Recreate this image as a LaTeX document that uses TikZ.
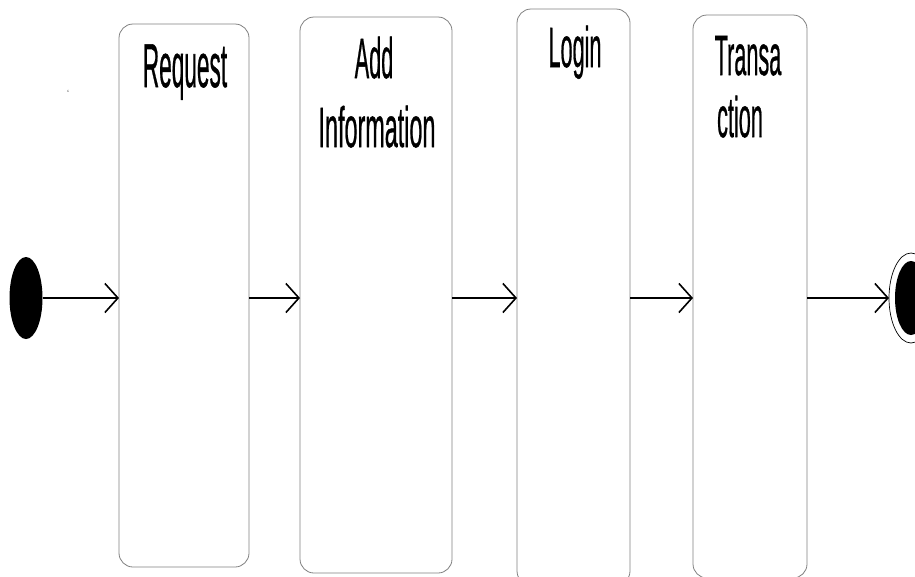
\documentclass[tikz,border=0pt]{standalone}
\usepackage{fontspec}
\setmainfont{Liberation Sans}
\newfontfamily\titlefont[FakeBold=0.9]{Liberation Sans}
\usetikzlibrary{arrows.meta,shapes.geometric}
\definecolor{edgegray}{RGB}{128,128,128}
\tikzset{
  stepbox/.style={draw=edgegray, line width=0.8pt, rounded corners=14pt,
    inner sep=0pt, outer sep=0pt},
  lbl/.style={anchor=base, inner sep=0pt, xscale=#1, transform shape},
  lbl/.default=0.38,
  flow/.style={line width=2pt, -{Straight Barb[length=13pt,width=29pt,line width=1.6pt]}},
  startdot/.style={ellipse, fill=black, draw=none, minimum width=33pt,
    minimum height=82pt, inner sep=0pt, outer sep=0pt},
}
\newcommand{\titlesize}{\titlefont\fontsize{57}{57}\selectfont}
\begin{document}
\begin{tikzpicture}[x=1pt,y=-1pt]
  \useasboundingbox (0,0) rectangle (915,576);
  \clip (0,0) rectangle (915,576);

  % activity boxes
  \node[stepbox, minimum width=130pt, minimum height=543pt] (b1) at (184,295.5) {};
  \node[stepbox, minimum width=152pt, minimum height=556pt] (b2) at (376,295) {};
  \node[stepbox, minimum width=113pt, minimum height=576pt] (b3) at (573.5,297) {};
  \node[stepbox, minimum width=114pt, minimum height=563pt] (b4) at (750,296.5) {};

  % box titles
  \node[lbl=0.365, font=\titlefont\fontsize{62}{62}\selectfont] (t1) at (185,87) {Request};
  \node[lbl, font=\titlesize] (t2a) at (374,78) {Add};
  \node[lbl=0.41, font=\titlesize] (t2b) at (377,147) {Information};
  \node[lbl, font=\titlesize] (t3) at (575,67) {Login};
  \node[lbl, font=\titlesize] (t4a) at (748,75) {Transa};
  \node[lbl, font=\titlesize] (t4b) at (740,137) {ction};

  % stray mark
  \node[inner sep=0pt, text=black!75] (mark) at (68,93) {\fontsize{9}{9}\selectfont `};

  % initial and final states
  \node[startdot] (start) at (26,298) {};
  \node[ellipse, draw=black, line width=0.7pt, minimum width=44pt,
        minimum height=90pt, inner sep=0pt, outer sep=0pt] (finish) at (911,298) {};
  \node[startdot, minimum width=32pt, minimum height=74pt] (finishdot) at (911,298) {};

  % transitions
  \draw[flow] (start.east) -- (start.east -| b1.west);
  \draw[flow] (start.east -| b1.east) -- (start.east -| b2.west);
  \draw[flow] (start.east -| b2.east) -- (start.east -| b3.west);
  \draw[flow] (start.east -| b3.east) -- (start.east -| b4.west);
  \draw[flow] (start.east -| b4.east) -- (finish.west);
\end{tikzpicture}
\end{document}
